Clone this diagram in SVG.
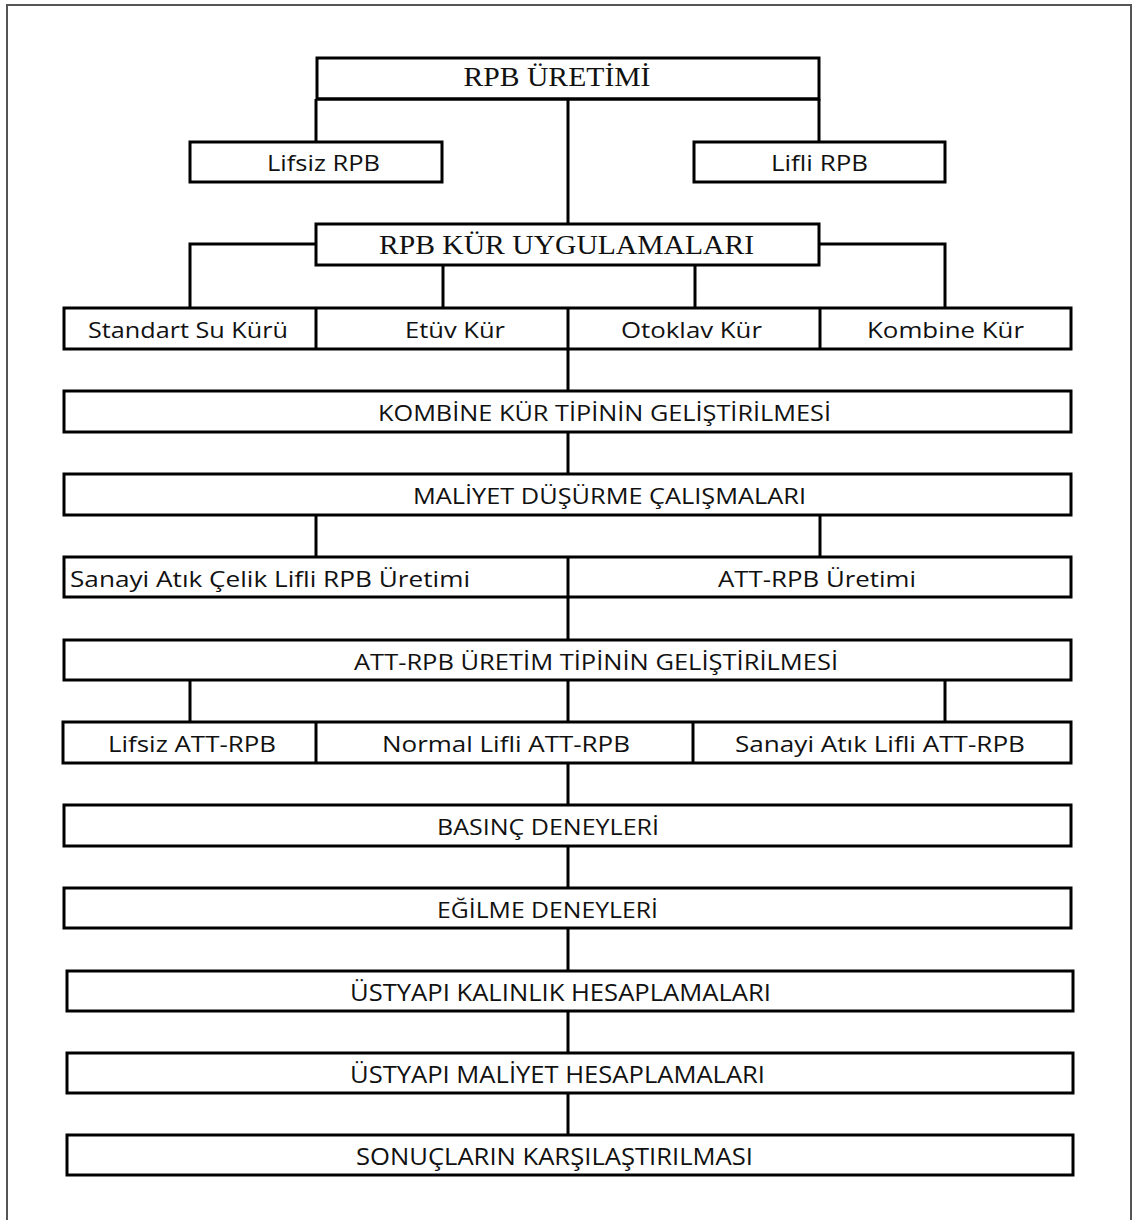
<svg xmlns="http://www.w3.org/2000/svg" width="1141" height="1220" viewBox="0 0 1141 1220">
<style>
.box{fill:#fff;stroke:#000;stroke-width:3}
.div{stroke:#000;stroke-width:3}
.con{fill:none;stroke:#000;stroke-width:3}
.s{font-family:"Open Sans","Liberation Sans",sans-serif;font-size:22.5px;fill:#111;text-anchor:middle}
.c{font-family:"Open Sans","Liberation Sans",sans-serif;font-size:24px;fill:#111;text-anchor:middle}
.l{font-family:"Open Sans","Liberation Sans",sans-serif;font-size:22.5px;fill:#111;text-anchor:start}
.r{font-family:"Liberation Serif","Times New Roman",serif;font-size:28px;fill:#111;text-anchor:middle}
</style>
<rect x="7" y="5" width="1124" height="1230" fill="#fff" stroke="#555" stroke-width="2"/>
<g id="connectors">
<path class="con" d="M316 99V142M819 99V142M568 99V224"/>
<path class="con" d="M316 244H190V308M819 244H945V308M443 265V308M695 265V308"/>
<path class="con" d="M568 349V391M568 432V474"/>
<path class="con" d="M316 515V557M820 515V557M568 597V640"/>
<path class="con" d="M190 680V722M568 680V722M945 680V722"/>
<path class="con" d="M568 763V805M568 846V888M568 928V971M568 1011V1053M568 1093V1135"/>
</g>
<g id="n_rpb_uretimi"><rect class="box" x="317" y="58" width="502" height="41"/><line class="div" x1="317" y1="99" x2="819" y2="99" stroke-width="4"/><text class="r" x="557" y="86" textLength="187" lengthAdjust="spacingAndGlyphs">RPB ÜRETİMİ</text></g>
<g id="n_lifsiz_rpb"><rect class="box" x="190" y="142" width="252" height="40"/><text class="s" x="323.5" y="171" textLength="113" lengthAdjust="spacingAndGlyphs">Lifsiz RPB</text></g>
<g id="n_lifli_rpb"><rect class="box" x="694" y="142" width="251" height="40"/><text class="s" x="819.5" y="171" textLength="97" lengthAdjust="spacingAndGlyphs">Lifli RPB</text></g>
<g id="n_kur"><rect class="box" x="316" y="224" width="503" height="41"/><text class="r" x="566.5" y="254" textLength="375" lengthAdjust="spacingAndGlyphs">RPB KÜR UYGULAMALARI</text></g>
<g id="n_kur_tipleri"><rect class="box" x="64" y="308" width="1007" height="41"/><line class="div" x1="316" y1="308" x2="316" y2="349"/><line class="div" x1="568" y1="308" x2="568" y2="349"/><line class="div" x1="820" y1="308" x2="820" y2="349"/>
<text class="s" x="188" y="338" textLength="200" lengthAdjust="spacingAndGlyphs">Standart Su Kürü</text>
<text class="s" x="455" y="338" textLength="100" lengthAdjust="spacingAndGlyphs">Etüv Kür</text>
<text class="s" x="691.5" y="338" textLength="141" lengthAdjust="spacingAndGlyphs">Otoklav Kür</text>
<text class="s" x="945.5" y="338" textLength="157" lengthAdjust="spacingAndGlyphs">Kombine Kür</text></g>
<g id="n_kombine"><rect class="box" x="64" y="391" width="1007" height="41"/><text class="s" x="604.5" y="421" textLength="453" lengthAdjust="spacingAndGlyphs">KOMBİNE KÜR TİPİNİN GELİŞTİRİLMESİ</text></g>
<g id="n_maliyet"><rect class="box" x="64" y="474" width="1007" height="41"/><text class="s" x="609.5" y="504" textLength="393" lengthAdjust="spacingAndGlyphs">MALİYET DÜŞÜRME ÇALIŞMALARI</text></g>
<g id="n_uretim"><rect class="box" x="64" y="557" width="1007" height="40"/><line class="div" x1="568" y1="557" x2="568" y2="597"/>
<text class="l" x="70" y="587" textLength="400" lengthAdjust="spacingAndGlyphs">Sanayi Atık Çelik Lifli RPB Üretimi</text>
<text class="s" x="817" y="587" textLength="198" lengthAdjust="spacingAndGlyphs">ATT-RPB Üretimi</text></g>
<g id="n_att_tip"><rect class="box" x="64" y="640" width="1007" height="40"/><text class="s" x="596" y="670" textLength="484" lengthAdjust="spacingAndGlyphs">ATT-RPB ÜRETİM TİPİNİN GELİŞTİRİLMESİ</text></g>
<g id="n_att_types"><rect class="box" x="63" y="722" width="1008" height="41"/><line class="div" x1="316" y1="722" x2="316" y2="763"/><line class="div" x1="693" y1="722" x2="693" y2="763"/>
<text class="s" x="192" y="752" textLength="168" lengthAdjust="spacingAndGlyphs">Lifsiz ATT-RPB</text>
<text class="s" x="506" y="752" textLength="248" lengthAdjust="spacingAndGlyphs">Normal Lifli ATT-RPB</text>
<text class="s" x="880" y="752" textLength="290" lengthAdjust="spacingAndGlyphs">Sanayi Atık Lifli ATT-RPB</text></g>
<g id="n_basinc"><rect class="box" x="64" y="805" width="1007" height="41"/><text class="s" x="548" y="835" textLength="222" lengthAdjust="spacingAndGlyphs">BASINÇ DENEYLERİ</text></g>
<g id="n_egilme"><rect class="box" x="64" y="888" width="1007" height="40"/><text class="s" x="547.5" y="918" textLength="221" lengthAdjust="spacingAndGlyphs">EĞİLME DENEYLERİ</text></g>
<g id="n_kalinlik"><rect class="box" x="67" y="971" width="1006" height="40"/><text class="c" x="560.5" y="1001" textLength="421" lengthAdjust="spacingAndGlyphs">ÜSTYAPI KALINLIK HESAPLAMALARI</text></g>
<g id="n_ust_maliyet"><rect class="box" x="67" y="1053" width="1006" height="40"/><text class="c" x="557.5" y="1083" textLength="415" lengthAdjust="spacingAndGlyphs">ÜSTYAPI MALİYET HESAPLAMALARI</text></g>
<g id="n_sonuc"><rect class="box" x="67" y="1135" width="1006" height="40"/><text class="c" x="554.5" y="1165" textLength="397" lengthAdjust="spacingAndGlyphs">SONUÇLARIN KARŞILAŞTIRILMASI</text></g>
</svg>
